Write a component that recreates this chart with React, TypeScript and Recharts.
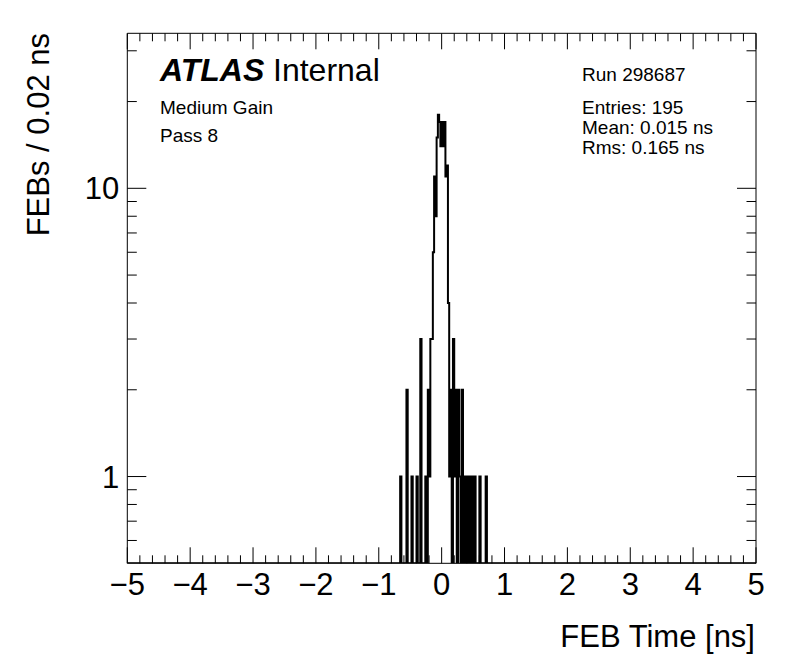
import React from 'react';
import { ComposedChart, Line, XAxis, YAxis } from 'recharts';

// ---- data ----
const BIN_WIDTH = 0.02;
const binLowEdges = [
  -0.66, -0.56, -0.48, -0.4, -0.34, -0.26, -0.22, -0.2, -0.18, -0.16,
  -0.14, -0.12, -0.1, -0.08, -0.06, -0.04, -0.02, 0.0, 0.02, 0.04, 0.06, 0.08,
  0.1, 0.12, 0.14, 0.18, 0.2, 0.22, 0.26, 0.28, 0.32, 0.36, 0.4, 0.44, 0.48, 0.52, 0.6, 0.7,
];
const binCounts = [
  1, 2, 1, 1, 3, 1, 2, 1, 3, 3,
  6, 11, 8, 15, 18, 17, 14, 17, 14, 17, 11, 12,
  4, 1, 2, 3, 1, 2, 2, 1, 2, 1, 1, 1, 1, 1, 1, 1,
];
const xLabelTicks = [-5, -4, -3, -2, -1, 0, 1, 2, 3, 4, 5];
const yLabelTicks = [1, 10];
const yMinorTicks = [0.6, 0.7, 0.8, 0.9, 2, 3, 4, 5, 6, 7, 8, 9, 20, 30];
const Y_DOMAIN: [number, number] = [0.5, 34.5];
const X_DOMAIN: [number, number] = [-5, 5];
const statLines = ['Entries: 195', 'Mean: 0.015 ns', 'Rms: 0.165 ns'];
const runLabel = 'Run 298687';
const infoLines = ['Medium Gain', 'Pass 8'];

// ---- table built from the arrays ----
function buildSteps() {
  const floor = Y_DOMAIN[0];
  const pts: { t: number; n: number }[] = [{ t: X_DOMAIN[0], n: floor }];
  for (let i = 0; i < binLowEdges.length; i++) {
    const e = binLowEdges[i];
    pts.push({ t: e, n: binCounts[i] });
    const end = +(e + BIN_WIDTH).toFixed(2);
    const next = binLowEdges[i + 1];
    if (next === undefined || Math.abs(next - end) > 1e-6) pts.push({ t: end, n: floor });
  }
  pts.push({ t: X_DOMAIN[1], n: floor });
  return pts;
}
const data = buildSteps();

const xTicks: number[] = [];
for (let i = 0; i <= 50; i++) xTicks.push(+(X_DOMAIN[0] + i * 0.2).toFixed(2));
const yTicks = [...yMinorTicks, ...yLabelTicks].sort((a, b) => a - b);

const FONT = '"Liberation Sans", Arial, Helvetica, sans-serif';
const isMajorX = (v: number) => xLabelTicks.some((m) => Math.abs(m - v) < 1e-6);
const isMajorY = (v: number) => yLabelTicks.includes(v);
const fmt = (v: number) => (v < 0 ? '\u2212' + Math.abs(v) : String(v));

const BottomTick = (p: any) => {
  const v = p.payload.value;
  const major = isMajorX(v);
  return (
    <g>
      <line x1={p.x} y1={p.y} x2={p.x} y2={p.y - (major ? 16 : 8)} stroke="#000" strokeWidth={1} />
      {major && (
        <text x={p.x} y={p.y + 32} textAnchor="middle" fontSize={31} fontFamily={FONT} fill="#000">
          {fmt(v)}
        </text>
      )}
    </g>
  );
};
const TopTick = (p: any) => {
  const major = isMajorX(p.payload.value);
  return <line x1={p.x} y1={p.y} x2={p.x} y2={p.y + (major ? 16 : 8)} stroke="#000" strokeWidth={1} />;
};
const LeftTick = (p: any) => {
  const v = p.payload.value;
  const major = isMajorY(v);
  return (
    <g>
      <line x1={p.x} y1={p.y} x2={p.x + (major ? 19 : 9.5)} y2={p.y} stroke="#000" strokeWidth={1} />
      {major && (
        <text x={p.x - 8} y={p.y + 11} textAnchor="end" fontSize={31} fontFamily={FONT} fill="#000">
          {v}
        </text>
      )}
    </g>
  );
};
const RightTick = (p: any) => {
  const major = isMajorY(p.payload.value);
  return <line x1={p.x} y1={p.y} x2={p.x - (major ? 19 : 9.5)} y2={p.y} stroke="#000" strokeWidth={1} />;
};

const axisCommon = {
  allowDataOverflow: true,
  interval: 0 as const,
  tickSize: 0,
  tickMargin: 0,
  tickLine: false,
  axisLine: { stroke: '#000', strokeWidth: 1 },
};

export default function App() {
  return (
    <div style={{ position: 'absolute', left: 0, top: 0, width: 796, height: 672, background: '#fff' }}>
      <ComposedChart
        width={796}
        height={672}
        data={data}
        margin={{ top: 32.3, right: 39, left: 126.3, bottom: 107.7 }}
      >
        <XAxis
          {...axisCommon}
          xAxisId="b"
          dataKey="t"
          type="number"
          domain={X_DOMAIN}
          ticks={xTicks}
          height={1}
          tick={<BottomTick />}
        />
        <XAxis
          {...axisCommon}
          xAxisId="t"
          orientation="top"
          dataKey="t"
          type="number"
          domain={X_DOMAIN}
          ticks={xTicks}
          height={1}
          tick={<TopTick />}
        />
        <YAxis
          {...axisCommon}
          yAxisId="l"
          scale="log"
          type="number"
          domain={Y_DOMAIN}
          ticks={yTicks}
          width={1}
          tick={<LeftTick />}
        />
        <YAxis
          {...axisCommon}
          yAxisId="r"
          orientation="right"
          scale="log"
          type="number"
          domain={Y_DOMAIN}
          ticks={yTicks}
          width={1}
          tick={<RightTick />}
        />
        <Line
          xAxisId="b"
          yAxisId="l"
          dataKey="n"
          type="stepAfter"
          stroke="#000"
          strokeWidth={2}
          dot={false}
          activeDot={false}
          isAnimationActive={false}
        />
      </ComposedChart>
      <svg
        width={796}
        height={672}
        style={{ position: 'absolute', left: 0, top: 0, pointerEvents: 'none' }}
        fontFamily={FONT}
      >
        <text x={160} y={80.5} fontSize={32} fontWeight="bold" fontStyle="italic" fill="#000">ATLAS</text>
        <text x={273} y={80.5} fontSize={32} fill="#000">Internal</text>
        {infoLines.map((s, i) => (
          <text key={s} x={160} y={114 + i * 27.5} fontSize={19} fill="#000">{s}</text>
        ))}
        <text x={582} y={81} fontSize={19} fill="#000">{runLabel}</text>
        {statLines.map((s, i) => (
          <text key={s} x={582} y={114 + i * 20} fontSize={19} fill="#000">{s}</text>
        ))}
        <text x={755} y={647} textAnchor="end" fontSize={31} fill="#000">FEB Time [ns]</text>
        <text x={49} y={33} textAnchor="end" fontSize={31} fill="#000" transform="rotate(-90 49 33)">
          FEBs / 0.02 ns
        </text>
      </svg>
    </div>
  );
}
